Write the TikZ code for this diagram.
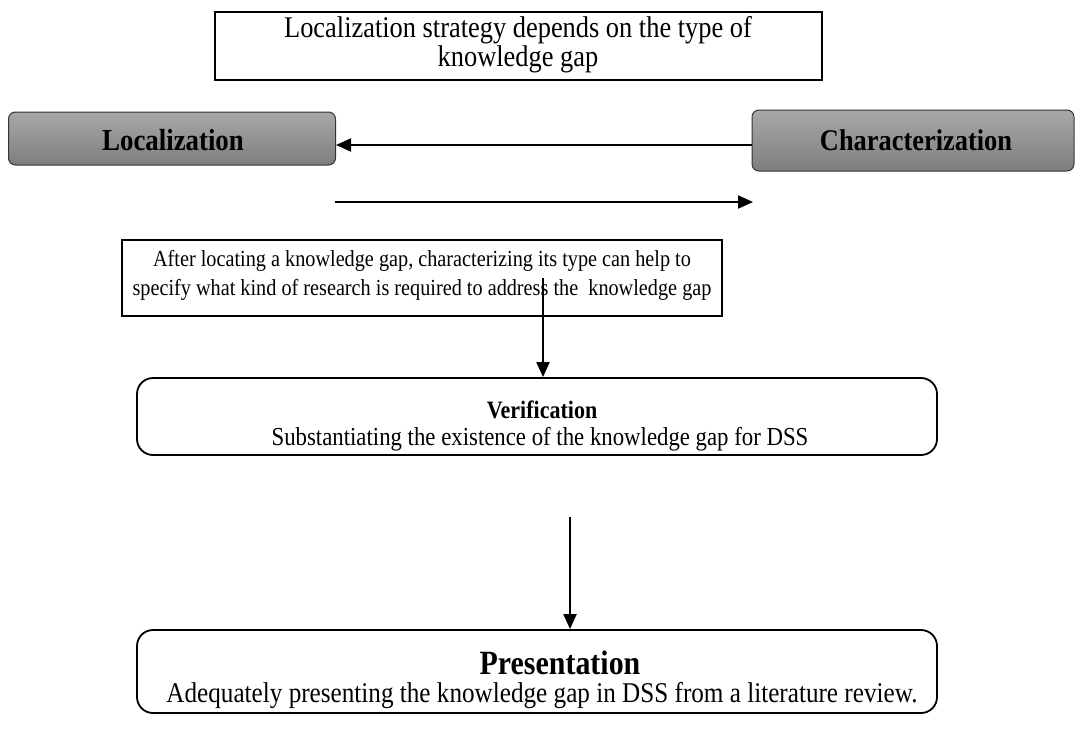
\documentclass[tikz,border=0pt]{standalone}
\usepackage{fontspec}
\setmainfont[FakeStretch=0.88]{Liberation Serif}
\usetikzlibrary{arrows.meta}
\definecolor{gtop}{RGB}{168,168,168}
\definecolor{gbot}{RGB}{126,126,126}
\tikzset{
  plainbox/.style={draw, line width=1.6pt, inner sep=0pt},
  graybox/.style={draw=black!80, line width=1pt, rounded corners=7pt, top color=gtop, bottom color=gbot, inner sep=0pt},
  roundbox/.style={draw, line width=1.8pt, rounded corners=16pt, inner sep=0pt},
  txt/.style={anchor=base, inner sep=0pt},
  arr/.style={line width=2pt, -{Triangle[length=15pt,width=13pt]}}
}
\begin{document}
\begin{tikzpicture}[x=1pt,y=-1pt]
\useasboundingbox (0,0) rectangle (1075,740);
% boxes
\node[plainbox, minimum width=607pt, minimum height=68pt] (top) at (518.5,46) {};
\node[graybox, minimum width=327pt, minimum height=53pt] (loc) at (172,138.5) {};
\node[graybox, minimum width=322pt, minimum height=61pt] (cha) at (913,140.5) {};
\node[plainbox, minimum width=600pt, minimum height=76pt] (mid) at (422,278) {};
\node[roundbox, minimum width=800pt, minimum height=77pt] (ver) at (537,416.5) {};
\node[roundbox, minimum width=800pt, minimum height=83pt] (pre) at (537,671.5) {};
% texts
\node[txt, font=\fontsize{30}{29}\selectfont] (top1) at (518,37) {Localization strategy depends on the type of};
\node[txt, font=\fontsize{30}{29}\selectfont] (top2) at (518,66) {knowledge gap};
\node[txt, font=\bfseries\fontsize{30.5}{29}\selectfont] (loct) at (173,150) {Localization};
\node[txt, font=\bfseries\fontsize{30}{29}\selectfont] (chat) at (916,150) {Characterization};
\node[txt, font=\fontsize{23}{29}\selectfont] (mid1) at (422,266) {After locating a knowledge gap, characterizing its type can help to};
\node[txt, font=\fontsize{23}{29}\selectfont] (mid2) at (422,295) {specify what kind of research is required to address the\ \ knowledge gap};
\node[txt, font=\bfseries\fontsize{25}{29}\selectfont] (vert) at (542,418) {Verification};
\node[txt, font=\fontsize{25.9}{29}\selectfont] (vers) at (540,445) {Substantiating the existence of the knowledge gap for DSS};
\node[txt, font=\bfseries\fontsize{34}{32}\selectfont] (pret) at (560,674) {Presentation};
\node[txt, font=\fontsize{28.6}{29}\selectfont] (pres) at (542,702) {Adequately presenting the knowledge gap in DSS from a literature review.};
% connectors
\coordinate (c1) at (752,145);
\coordinate (a2s) at (335,202);
\coordinate (a2e) at (753,202);
\coordinate (m) at (543,278);
\coordinate (v1) at (570,517);
\draw[arr] (c1) -- (loc.east |- c1);
\draw[arr] (a2s) -- (a2e);
\draw[arr] (m) -- (m |- ver.north);
\draw[arr] (v1) -- (v1 |- pre.north);
\end{tikzpicture}
\end{document}
